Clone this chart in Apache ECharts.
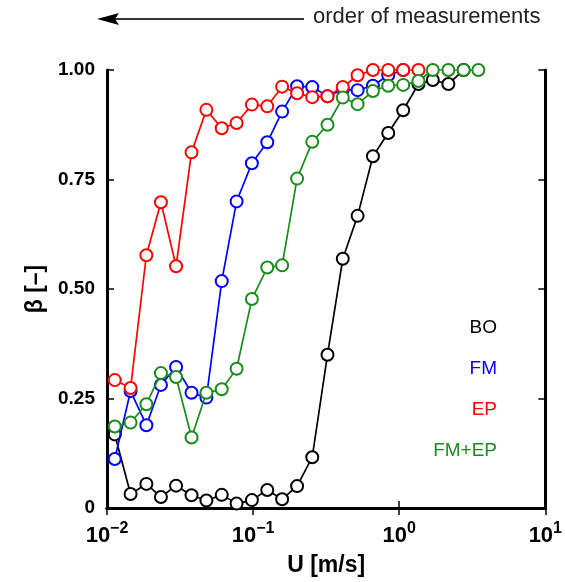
<!DOCTYPE html>
<html><head><meta charset="utf-8">
<script src="https://cdn.jsdelivr.net/npm/echarts@6/dist/echarts.min.js"></script>
<style>html,body{margin:0;padding:0;background:#fff}#c{width:565px;height:582px}</style>
</head><body><div id="c"></div>
<script>
// Flow velocity U [m/s] (shared grid of measurement points)
const U = [0.0113, 0.0145, 0.0186, 0.0234, 0.0297, 0.0379, 0.0479, 0.0610, 0.0771, 0.0981,
           0.125, 0.158, 0.200, 0.254, 0.323, 0.411, 0.519, 0.661, 0.841, 1.065,
           1.354, 1.698, 2.17, 2.76, 3.48];
// beta [-] per series
const BO = [0.168, 0.032, 0.055, 0.025, 0.051, 0.029, 0.017, 0.030, 0.010, 0.018,
            0.041, 0.020, 0.050, 0.116, 0.350, 0.569, 0.667, 0.803, 0.856, 0.908,
            0.968, 0.977, 0.968, 1.0, null];
const FM = [0.112, 0.267, 0.189, 0.281, 0.322, 0.263, 0.252, 0.518, 0.700, 0.787,
            0.835, 0.905, 0.963, 0.961, 0.940, 0.955, 0.954, 0.964, 0.988, 1.0,
            null, null, null, null, null];
const EP = [0.292, 0.274, 0.577, 0.698, 0.552, 0.812, 0.909, 0.867, 0.879, 0.921,
            0.917, 0.962, 0.947, 0.938, 0.940, 0.961, 0.988, 1.0, 1.0, 1.0,
            1.0, null, null, null, null];
const FMEP = [0.186, 0.195, 0.237, 0.308, 0.299, 0.161, 0.263, 0.271, 0.318, 0.477,
              0.549, 0.554, 0.752, 0.836, 0.875, 0.937, 0.922, 0.952, 0.964, 0.966,
              0.975, 1.0, 1.0, 1.0, 1.0];
const seriesNames = ['BO', 'FM', 'EP', 'FM+EP'];
const seriesData = [BO, FM, EP, FMEP];
const colors = ['#000000', '#0000ff', '#ff0000', '#1a8c1a'];
const yTicks = ['0', '0.25', '0.50', '0.75', '1.00'];
const xExp = ['−2', '−1', '0', '1'];

const chart = echarts.init(document.getElementById('c'), null, {renderer: 'canvas'});
const FONT = 'Liberation Sans, Arial, sans-serif';

function pairs(arr) {
  const out = [];
  arr.forEach((v, i) => { if (v !== null) out.push([U[i], v]); });
  return out;
}

const series = seriesNames.map((n, k) => ({
  name: n,
  type: 'line',
  data: pairs(seriesData[k]),
  symbol: 'circle',
  symbolSize: 12,
  itemStyle: {color: '#fff', borderColor: colors[k], borderWidth: 2},
  lineStyle: {color: colors[k], width: 1.7},
  emphasis: {disabled: true},
  animation: false,
  z: 3 + k
}));

const legendGraphics = seriesNames.map((n, k) => ({
  type: 'text',
  right: 68,
  top: 318 + k * 41,
  style: {text: n, fill: colors[k], font: '19px ' + FONT, textAlign: 'right'}
}));

const option = {
  animation: false,
  grid: {left: 107, right: 19, top: 70, bottom: 71, containLabel: false},
  xAxis: [{
    type: 'log', logBase: 10, min: 0.01, max: 10,
    axisLine: {show: true, lineStyle: {color: '#000', width: 3}},
    axisTick: {show: true, inside: true, length: 7, lineStyle: {color: '#000', width: 1.5}},
    minorTick: {show: false},
    splitLine: {show: false},
    axisLabel: {
      margin: 13,
      formatter: function (v) {
        const e = Math.round(Math.log10(v));
        return '{b|10}{s|' + xExp[e + 2] + '}';
      },
      rich: {
        b: {fontFamily: FONT, fontSize: 22, fontWeight: 'bold', color: '#000', verticalAlign: 'bottom'},
        s: {fontFamily: FONT, fontSize: 16, fontWeight: 'bold', color: '#000', verticalAlign: 'top', padding: [0, 0, 10, 0]}
      }
    },
    name: 'U [m/s]', nameLocation: 'middle', nameGap: 46,
    nameTextStyle: {fontFamily: FONT, fontSize: 23, fontWeight: 'bold', color: '#000'}
  }, {
    type: 'log', logBase: 10, min: 0.01, max: 10, position: 'top',
    axisLine: {show: true, lineStyle: {color: '#000', width: 3}},
    axisTick: {show: true, inside: true, length: 7, lineStyle: {color: '#000', width: 1.5}},
    axisLabel: {show: false}, splitLine: {show: false}
  }],
  yAxis: [{
    type: 'value', min: 0, max: 1, interval: 0.25,
    axisLine: {show: true, lineStyle: {color: '#000', width: 3}},
    axisTick: {show: true, inside: true, length: 7, lineStyle: {color: '#000', width: 1.5}},
    splitLine: {show: false},
    axisLabel: {
      margin: 12,
      formatter: function (v) { return yTicks[Math.round(v / 0.25)]; },
      fontFamily: FONT, fontSize: 19, fontWeight: 'bold', color: '#000'
    },
    name: 'β [–]', nameLocation: 'middle', nameGap: 56, nameRotate: 90,
    nameTextStyle: {fontFamily: FONT, fontSize: 23, fontWeight: 'bold', color: '#000'}
  }, {
    type: 'value', min: 0, max: 1, interval: 0.25, position: 'right',
    axisLine: {show: true, lineStyle: {color: '#000', width: 3}},
    axisTick: {show: true, inside: true, length: 7, lineStyle: {color: '#000', width: 1.5}},
    axisLabel: {show: false}, splitLine: {show: false}
  }],
  series: series,
  graphic: [
    {type: 'line', shape: {x1: 304, y1: 19, x2: 112, y2: 19}, style: {stroke: '#333', lineWidth: 2}},
    {type: 'polygon', shape: {points: [[97, 19], [119, 13], [115, 19], [119, 25]]}, style: {fill: '#000'}},
    {type: 'text', left: 313, top: 6, style: {text: 'order of measurements', fill: '#222', font: '22px ' + FONT}}
  ].concat(legendGraphics)
};
chart.setOption(option);
</script>
</body></html>
